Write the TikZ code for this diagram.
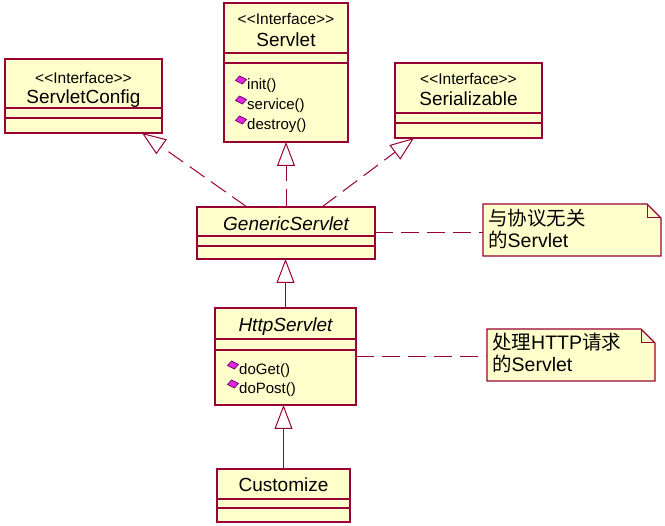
\documentclass[tikz,border=0pt]{standalone}
\usepackage{fontspec}
\setmainfont{Liberation Sans}
\newfontfamily\cjk{Noto Sans CJK SC}
\usetikzlibrary{arrows.meta,calc}

\definecolor{umlline}{RGB}{153,0,51}
\definecolor{umlfill}{RGB}{255,255,204}
\definecolor{opicon}{RGB}{224,40,224}
\definecolor{opedge}{RGB}{110,0,110}

\newcommand{\stereotag}{<{}<Interface>{}>}

\tikzset{
  classbox/.style={draw=umlline, fill=umlfill, line width=1.2pt, anchor=north west,
                   inner sep=0pt, outer sep=0pt},
  holder/.style={anchor=north west, inner sep=0pt, outer sep=0pt},
  sep/.style={draw=umlline, line width=1.2pt},
  stereo/.style={font=\fontsize{15.5}{18}\selectfont, anchor=base, inner sep=0pt},
  cname/.style={font=\fontsize{19}{22}\selectfont, anchor=base, inner sep=0pt},
  aname/.style={font=\fontsize{19}{22}\selectfont\itshape, anchor=base, inner sep=0pt},
  op/.style={font=\fontsize{15}{18}\selectfont, anchor=base west, inner sep=0pt},
  notetext/.style={font=\fontsize{19.5}{22}\selectfont, anchor=base west, inner sep=0pt},
  realize/.style={draw=umlline, line width=1pt, dash pattern=on 18pt off 8pt,
                  -{Triangle[fill=white, length=24pt, width=18pt]}},
  inherit/.style={draw=umlline, line width=1pt,
                  -{Triangle[fill=white, length=24pt, width=18pt]}},
  notelink/.style={draw=umlline, line width=1pt, dash pattern=on 18pt off 8pt},
  notebox/.style={draw=umlline, fill=umlfill, line width=1.2pt, line join=miter},
  notefold/.style={draw=umlline, line width=1pt},
  opmark/.pic={\filldraw[fill=opicon, draw=opedge, line width=0.7pt]
      (-5.5,0.5) -- (-1.5,-4) -- (5.5,-0.5) -- (1.5,4) -- cycle;}
}

\begin{document}
\begin{tikzpicture}[x=1pt, y=-1pt]
\useasboundingbox (0,0) rectangle (665,526);

% ---- Servlet interface ----
\node[classbox, minimum width=124pt, minimum height=139pt] (servlet) at (224,3) {};
\draw[sep] (servlet.west |- 0,53) -- (servlet.east |- 0,53);
\draw[sep] (servlet.west |- 0,63) -- (servlet.east |- 0,63);
\node[stereo] (servletst) at (286,25) {\stereotag};
\node[cname] (servletnm) at (286,47) {Servlet};
\pic at (241,80) {opmark};
\node[op] (opinit) at (247,90) {init()};
\pic at (241,100) {opmark};
\node[op] (opservice) at (247,110) {service()};
\pic at (241,120) {opmark};
\node[op] (opdestroy) at (247,130) {destroy()};

% ---- ServletConfig interface ----
\node[classbox, minimum width=157pt, minimum height=74pt] (config) at (5,59) {};
\draw[sep] (config.west |- 0,108) -- (config.east |- 0,108);
\draw[sep] (config.west |- 0,118) -- (config.east |- 0,118);
\node[stereo] (configst) at (83.5,84) {\stereotag};
\node[cname] (confignm) at (83.5,104) {ServletConfig};

% ---- Serializable interface ----
\node[classbox, minimum width=147pt, minimum height=75pt] (serial) at (395,63) {};
\draw[sep] (serial.west |- 0,113) -- (serial.east |- 0,113);
\draw[sep] (serial.west |- 0,123) -- (serial.east |- 0,123);
\node[stereo] (serialst) at (468.5,85) {\stereotag};
\node[cname] (serialnm) at (468.5,106) {Serializable};

% ---- GenericServlet ----
\node[classbox, minimum width=178pt, minimum height=52pt] (generic) at (197,207) {};
\draw[sep] (generic.west |- 0,236) -- (generic.east |- 0,236);
\draw[sep] (generic.west |- 0,246) -- (generic.east |- 0,246);
\node[aname] (genericnm) at (286,231) {GenericServlet};

% ---- HttpServlet ----
\node[classbox, minimum width=141pt, minimum height=97pt] (http) at (215,308) {};
\draw[sep] (http.west |- 0,339) -- (http.east |- 0,339);
\draw[sep] (http.west |- 0,350) -- (http.east |- 0,350);
\node[aname] (httpnm) at (285.5,332) {HttpServlet};
\pic at (233,365) {opmark};
\node[op] (opget) at (239,375) {doGet()};
\pic at (233,384) {opmark};
\node[op] (oppost) at (239,394) {doPost()};

% ---- Customize ----
\node[classbox, minimum width=133pt, minimum height=53pt] (custom) at (217,469) {};
\draw[sep] (custom.west |- 0,499) -- (custom.east |- 0,499);
\draw[sep] (custom.west |- 0,508) -- (custom.east |- 0,508);
\node[cname] (customnm) at (283.5,492) {Customize};

% ---- notes with folded corner ----
\node[holder, minimum width=178pt, minimum height=52pt] (note1) at (483,204) {};
\draw[notebox] (note1.north west) -- ([xshift=-14pt]note1.north east)
  -- ([yshift=-14pt]note1.north east) -- (note1.south east) -- (note1.south west) -- cycle;
\draw[notefold] ([xshift=-14pt]note1.north east) |- ([yshift=-14pt]note1.north east);
\node[notetext] (note1a) at (488,226) {\cjk 与协议无关};
\node[notetext] (note1b) at (488,248) {{\cjk 的}Servlet};

\node[holder, minimum width=168pt, minimum height=52pt] (note2) at (487,329) {};
\draw[notebox] (note2.north west) -- ([xshift=-14pt]note2.north east)
  -- ([yshift=-14pt]note2.north east) -- (note2.south east) -- (note2.south west) -- cycle;
\draw[notefold] ([xshift=-14pt]note2.north east) |- ([yshift=-14pt]note2.north east);
\node[notetext] (note2a) at (492,350) {{\cjk 处理}HTTP{\cjk 请求}};
\node[notetext] (note2b) at (492,372) {{\cjk 的}Servlet};

% ---- realizations ----
\draw[realize] (generic.north) -- (generic.north |- servlet.south);
\draw[realize] ([xshift=50pt]generic.north west) -- ([xshift=-20pt]config.south east);
\draw[realize] ([xshift=-53pt]generic.north east) -- ([xshift=19pt]serial.south west);

% ---- generalizations ----
\draw[inherit] (http.north) -- (http.north |- generic.south);
\draw[inherit] (custom.north) -- (custom.north |- http.south);

% ---- note links ----
\draw[notelink] (generic.east) -- (generic.east -| note1.west);
\draw[notelink] (http.east) -- (http.east -| note2.west);
\end{tikzpicture}
\end{document}
